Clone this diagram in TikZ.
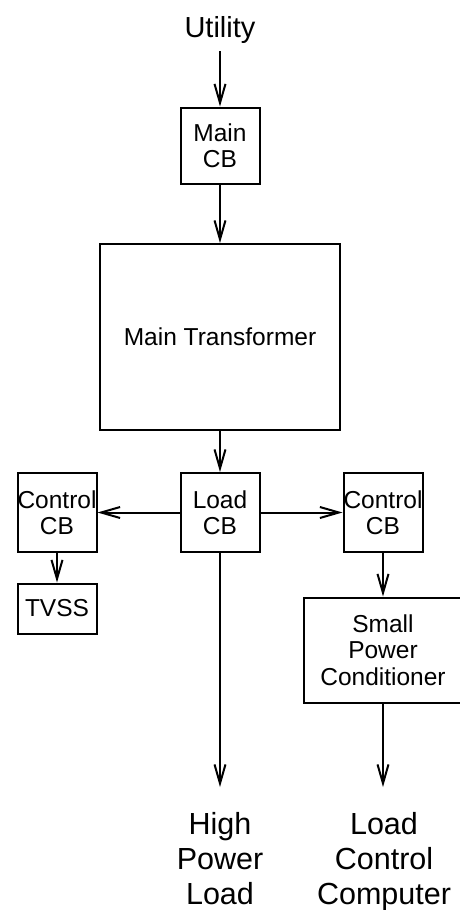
\documentclass[tikz,border=0pt]{standalone}
\usepackage{fontspec}
\setmainfont{Liberation Sans}
\usetikzlibrary{arrows.meta}
\newcommand{\blockfont}{\fontsize{24.5}{26.5}\selectfont}
\newcommand{\termfont}{\fontsize{29}{35}\selectfont}
\newcommand{\loadsfont}{\fontsize{30.5}{35}\selectfont}

\begin{document}
\begin{tikzpicture}[x=1pt, y=-1pt, line width=2pt,
    >={Straight Barb[length=19pt, width=11pt]},
    block/.style={draw, inner sep=0pt, align=center, font=\blockfont,
        minimum width=79pt, minimum height=79pt},
    terminal/.style={align=center, font=\termfont, inner xsep=0pt}]
    \useasboundingbox (0,0) rectangle (460,910);
    % supply side
    \node[terminal, anchor=base, inner ysep=7pt] (utility) at (220,37) {Utility};
    \node[block, minimum height=76pt] (maincb) at (220,145.5) {Main\\CB};
    \node[block, minimum width=240pt, minimum height=186pt] (xfmr) at (220,337) {Main Transformer};
    % breaker row
    \node[block] (loadcb)  at (220,512.5) {Load\\CB};
    \node[block] (ctrlcbl) at (57,512.5)  {Control\\CB};
    \node[block] (ctrlcbr) at (383,512.5) {Control\\CB};
    \node[block, minimum height=50pt] (tvss) at (57,608.5) {TVSS};
    \node[block, minimum width=158pt, minimum height=105pt] (spc) at (383,650) {Small\\Power\\Conditioner};
    % loads
    \node[terminal, font=\loadsfont, anchor=north, inner ysep=24pt] (hpload) at (220,787) {High\\Power\\Load};
    \node[terminal, font=\loadsfont, anchor=north, inner ysep=24pt] (lccomp) at (384,787) {Load\\Control\\Computer};

    \draw[->] (utility) -- (maincb);
    \draw[->] (maincb) -- (xfmr);
    \draw[->] (xfmr) -- (loadcb);
    \draw[->] (loadcb) -- (ctrlcbl);
    \draw[->] (loadcb) -- (ctrlcbr);
    \draw[->] (ctrlcbl) -- (tvss);
    \draw[->] (ctrlcbr) -- (spc);
    \draw[->] (loadcb) -- (hpload);
    \draw[->] (spc.south) -- (spc.south |- lccomp.north);
\end{tikzpicture}
\end{document}
